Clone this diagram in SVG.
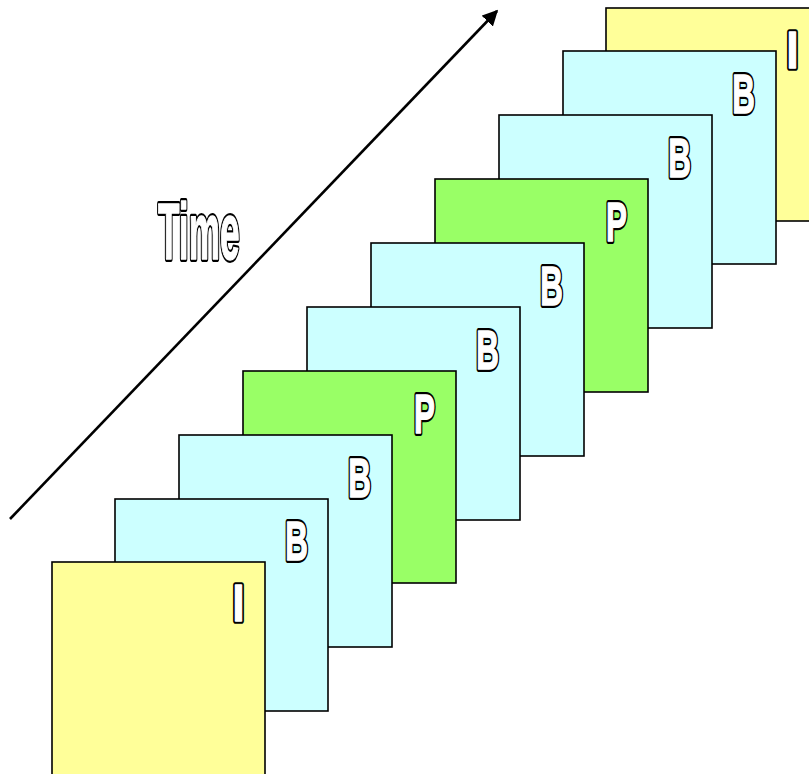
<svg xmlns="http://www.w3.org/2000/svg" width="809" height="774" viewBox="0 0 809 774">
  <defs>
    <marker id="arrowhead" viewBox="0 0 10 10" refX="9" refY="5" markerWidth="6" markerHeight="6" orient="auto" markerUnits="strokeWidth">
      <path d="M0,0 L10,5 L0,10 Z" fill="#000"/>
    </marker>
  </defs>
  <style>
    .frame { stroke: #000; stroke-width: 1.6; }
    .i { fill: #FFFF99; }
    .b { fill: #CCFFFF; }
    .p { fill: #99FF66; }
    /* outlined lettering: a thick black stroke underneath, white body on top */
    .lbl { font-family: "Liberation Sans", Arial, sans-serif; font-weight: bold; font-size: 55px; text-anchor: end; }
    .lbl .ol, .time .ol { fill: #000; stroke: #000; stroke-width: 6; stroke-linejoin: round; }
    .lbl .bd, .time .bd { fill: #fff; stroke: #fff; stroke-width: 1.5; stroke-linejoin: round; }
    .time { font-family: "Liberation Sans", Arial, sans-serif; font-weight: bold; font-size: 80px; }
  </style>
  <rect width="809" height="774" fill="#fff"/>

  <!-- time axis -->
  <g id="connectors">
    <line x1="10" y1="519" x2="497" y2="11" stroke="#000" stroke-width="2.6" marker-end="url(#arrowhead)"/>
  </g>
  <g id="time-label">
    <text class="time" transform="translate(158,259) scale(0.44,1)"><tspan class="ol">Time</tspan></text>
    <text class="time" transform="translate(158,259) scale(0.44,1)"><tspan class="bd">Time</tspan></text>
  </g>

  <!-- frames, drawn back to front -->
  <g id="frame10">
    <rect class="frame i" x="606" y="8" width="215" height="213"/>
    <g class="lbl" transform="translate(798.5,68) scale(0.78,0.95)"><text class="ol">I</text><text class="bd">I</text></g>
  </g>
  <g id="frame9">
    <rect class="frame b" x="563" y="51" width="213" height="213"/>
    <g class="lbl" transform="translate(755,113) scale(0.57,1)"><text class="ol">B</text><text class="bd">B</text></g>
  </g>
  <g id="frame8">
    <rect class="frame b" x="499" y="115" width="213" height="213"/>
    <g class="lbl" transform="translate(691,177) scale(0.57,1)"><text class="ol">B</text><text class="bd">B</text></g>
  </g>
  <g id="frame7">
    <rect class="frame p" x="435" y="179" width="213" height="213"/>
    <g class="lbl" transform="translate(627,241) scale(0.57,1)"><text class="ol">P</text><text class="bd">P</text></g>
  </g>
  <g id="frame6">
    <rect class="frame b" x="371" y="243" width="213" height="213"/>
    <g class="lbl" transform="translate(563,305) scale(0.57,1)"><text class="ol">B</text><text class="bd">B</text></g>
  </g>
  <g id="frame5">
    <rect class="frame b" x="307" y="307" width="213" height="213"/>
    <g class="lbl" transform="translate(499,369) scale(0.57,1)"><text class="ol">B</text><text class="bd">B</text></g>
  </g>
  <g id="frame4">
    <rect class="frame p" x="243" y="371" width="213" height="212"/>
    <g class="lbl" transform="translate(435,433) scale(0.57,1)"><text class="ol">P</text><text class="bd">P</text></g>
  </g>
  <g id="frame3">
    <rect class="frame b" x="179" y="435" width="213" height="212"/>
    <g class="lbl" transform="translate(371,497) scale(0.57,1)"><text class="ol">B</text><text class="bd">B</text></g>
  </g>
  <g id="frame2">
    <rect class="frame b" x="115" y="499" width="213" height="212"/>
    <g class="lbl" transform="translate(308,560) scale(0.57,1)"><text class="ol">B</text><text class="bd">B</text></g>
  </g>
  <g id="frame1">
    <rect class="frame i" x="52" y="562" width="213" height="220"/>
    <g class="lbl" transform="translate(244.5,621) scale(0.78,0.95)"><text class="ol">I</text><text class="bd">I</text></g>
  </g>
</svg>
